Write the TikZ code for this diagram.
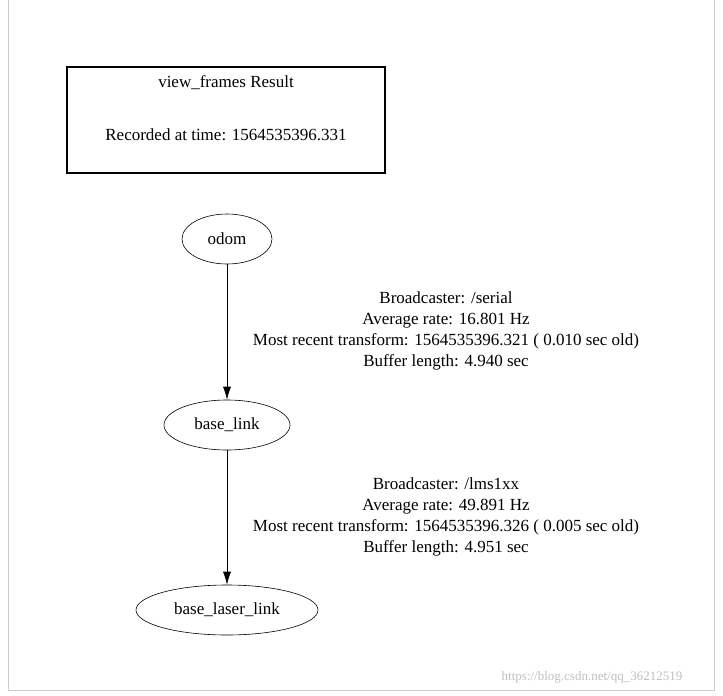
\documentclass[tikz,border=0pt]{standalone}
\usepackage{fontspec}
\setmainfont{Liberation Serif}
\usetikzlibrary{arrows.meta,shapes.geometric}
\begin{document}
\begin{tikzpicture}[x=1pt,y=-1pt,
  nd/.style={draw,ellipse,semithick,minimum height=50pt,font=\fontsize{17}{19}\selectfont,inner sep=0pt},
  lbl/.style={align=center,font=\fontsize{17}{21.2}\selectfont},
  arr/.style={-{Latex[length=13pt,width=8pt]},semithick}]
\useasboundingbox (0,0) rectangle (723,696);
\draw[gray!40] (8,-2) -- (8,690) -- (714,690) -- (714,-2);
\node[draw,line width=1.8pt,minimum width=318pt,minimum height=106pt] (title) at (226,120) {};
\node[font=\fontsize{17}{19}\selectfont] (t1) at (226,83) {view\_frames Result};
\node[font=\fontsize{17}{19}\selectfont] (t2) at (226,135) {Recorded at time: 1564535396.331};
\node[nd,minimum width=90pt] (odom) at (227,239) {odom};
\node[nd,minimum width=126pt] (bl) at (227,425) {base\_link};
\node[nd,minimum width=182pt] (bll) at (227,610) {base\_laser\_link};
\draw[arr] (odom) -- (bl);
\draw[arr] (bl) -- (bll);
\node[lbl] (l1) at (446,331) {Broadcaster: /serial\\Average rate: 16.801 Hz\\Most recent transform: 1564535396.321 ( 0.010 sec old)\\Buffer length: 4.940 sec};
\node[lbl] (l2) at (446,517) {Broadcaster: /lms1xx\\Average rate: 49.891 Hz\\Most recent transform: 1564535396.326 ( 0.005 sec old)\\Buffer length: 4.951 sec};
\node[font=\fontsize{13}{15}\selectfont,text=gray!50] (wm) at (592,677) {https://blog.csdn.net/qq\_36212519};
\end{tikzpicture}
\end{document}
